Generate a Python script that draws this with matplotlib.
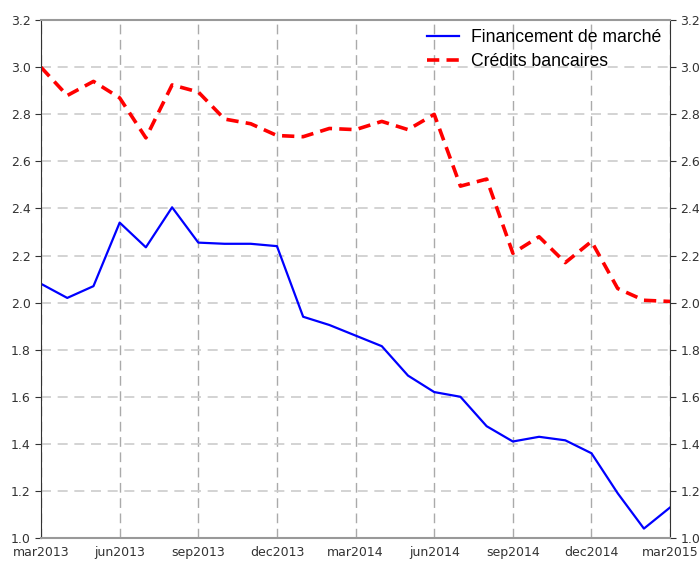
import numpy as np
import matplotlib.pyplot as plt

# monthly data, mar2013 .. mar2015
months = np.arange(25)
financement = [2.08, 2.02, 2.07, 2.34, 2.235, 2.405, 2.255, 2.25, 2.25, 2.24,
               1.94, 1.905, 1.86, 1.815, 1.69, 1.62, 1.60, 1.475, 1.41, 1.43,
               1.415, 1.36, 1.19, 1.04, 1.13]
credits = [3.0, 2.88, 2.94, 2.87, 2.70, 2.925, 2.895, 2.78, 2.76, 2.71,
           2.705, 2.74, 2.735, 2.77, 2.735, 2.80, 2.495, 2.525, 2.21, 2.28,
           2.17, 2.26, 2.06, 2.01, 2.005]
xtick_pos = [0, 3, 6, 9, 12, 15, 18, 21, 24]
xtick_labels = ['mar2013', 'jun2013', 'sep2013', 'dec2013', 'mar2014',
                'jun2014', 'sep2014', 'dec2014', 'mar2015']
yticks = [1.0, 1.2, 1.4, 1.6, 1.8, 2.0, 2.2, 2.4, 2.6, 2.8, 3.0, 3.2]

fig = plt.figure(figsize=(6.99, 5.61), dpi=100)
ax = fig.add_axes([0.0587, 0.041, 0.9, 0.923])

ax.plot(months, financement, color='#0000ff', lw=1.6, label='Financement de marché')
ax.plot(months, credits, color='#ff0000', lw=2.6, ls=(0, (3.4, 2.0)), label='Crédits bancaires')

ax.set_xlim(0, 24)
ax.set_ylim(1.0, 3.2)
ax.set_xticks(xtick_pos)
ax.set_xticklabels(xtick_labels)
ax.set_yticks(yticks)
ax.set_yticklabels(['%.1f' % v for v in yticks])
ax.tick_params(axis='both', labelsize=9, colors='#333333', length=4)
ax.tick_params(axis='x', length=0, pad=6)
ax.tick_params(axis='y', right=True, labelright=True)

ax.grid(True, axis='y', color='#cccccc', ls=(0, (6, 4)), lw=1.2)
ax.grid(True, axis='x', color='#aaaaaa', ls=(0, (7, 4)), lw=1)
ax.set_axisbelow(True)

for s in ['top', 'bottom']:
    ax.spines[s].set_color('#999999')
    ax.spines[s].set_linewidth(1.5)
for s in ['left', 'right']:
    ax.spines[s].set_color('#333333')

ax.legend(loc='upper right', frameon=False, handlelength=1.8,
          prop={'family': 'Liberation Sans', 'size': 12.7},
          borderaxespad=0.1, labelspacing=0.38, handletextpad=0.7)

fig.savefig('out.png', dpi=100)
